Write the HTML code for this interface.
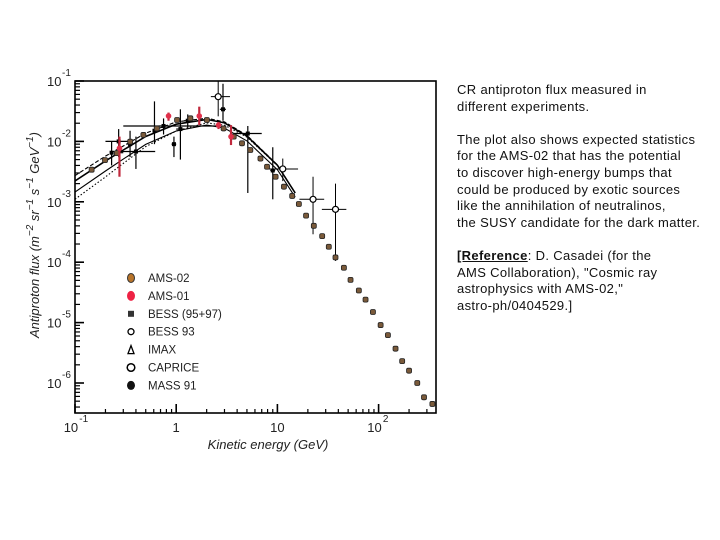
<!DOCTYPE html>
<html><head><meta charset="utf-8"><style>
body{margin:0;background:#fff;width:720px;height:540px;overflow:hidden;position:relative;font-family:"Liberation Sans",Arial,sans-serif}
#txt{position:absolute;left:457px;top:82px;font-size:13px;letter-spacing:0.35px;line-height:16.6px;color:#111;width:262px;white-space:nowrap}
#txt p{margin:0 0 16.6px 0}
</style></head><body>
<svg id="chart" width="440" height="540" style="position:absolute;left:0;top:0" font-family="Liberation Sans, Arial, sans-serif"></svg>
<div id="txt">
<p>CR antiproton flux measured in<br>different experiments.</p>
<p>The plot also shows expected statistics<br>for the AMS-02 that has the potential<br>to discover high-energy bumps that<br>could be produced by exotic sources<br>like the annihilation of neutralinos,<br>the SUSY candidate for the dark matter.</p>
<p><b><u>[Reference</u></b>: D. Casadei (for the<br>AMS Collaboration), "Cosmic ray<br>astrophysics with AMS-02,"<br>astro-ph/0404529.]</p>
</div>
<script>
const ams02E=[0.146,0.198,0.259,0.351,0.474,0.644,1.02,1.38,2.01,2.94,3.7,4.47,5.4,6.8,7.9,9.6,11.6,14,16.3,19.2,22.9,27.7,32.2,37.5,45.4,52.8,63.8,74.3,87.9,104.7,123.6,147,171,200,241,281,340];
const ams02F=[3.4e-3,4.9e-3,6.4e-3,9.9e-3,1.28e-2,1.64e-2,2.26e-2,2.41e-2,2.26e-2,1.64e-2,1.2e-2,9.3e-3,7.2e-3,5.2e-3,3.8e-3,2.6e-3,1.78e-3,1.25e-3,9.2e-4,5.9e-4,4.0e-4,2.7e-4,1.8e-4,1.2e-4,8.1e-5,5.1e-5,3.4e-5,2.4e-5,1.5e-5,9.1e-6,6.2e-6,3.7e-6,2.3e-6,1.6e-6,1.0e-6,5.8e-7,4.5e-7];
const ams01E=[0.275,0.84,1.69,2.62,3.48];
const ams01F=[7.7e-3,2.63e-2,2.63e-2,1.86e-2,1.2e-2];
const ams01Lo=[2.6e-3,2.2e-2,1.86e-2,1.6e-2,8.7e-3];
const ams01Hi=[1.2e-2,3.0e-2,3.76e-2,2.1e-2,1.86e-2];
const capE=[2.6,11.3,22.5,37.5];
const capF=[5.5e-2,3.5e-3,1.1e-3,7.5e-4];
const capLo=[2.6e-2,2.2e-3,2.9e-4,1.05e-4];
const capHi=[1e-1,5.2e-3,2.6e-3,2e-3];
const capXLo=[2.2,8.2,16.5,27.5];
const capXHi=[3.4,16,29,48];
const blkE=[0.27,0.23,0.35,0.4,0.61,0.95,1.1,2.9,5.1,9.0,0.75,1.3];
const blkF=[1.0e-2,6.5e-3,9e-3,6.8e-3,1.5e-2,9e-3,1.6e-2,3.4e-2,1.35e-2,3.3e-3,1.8e-2,2.2e-2];
const blkLo=[5.5e-3,4e-3,5.5e-3,3.5e-3,9e-3,5.5e-3,5e-3,2.2e-2,1.4e-3,1.1e-3,1.3e-2,1.6e-2];
const blkHi=[1.6e-2,1.0e-2,1.5e-2,1.2e-2,4.6e-2,1.2e-2,3.4e-2,9e-2,1.8e-2,8e-3,2.4e-2,2.8e-2];
const blkXLo=[0.2,0.25,0.33,0.27,0.6,0.9,1.0,2.7,3.7,8.5,0.3,1.2];
const blkXHi=[0.36,0.3,0.37,0.62,0.63,1.0,1.2,3.1,7.0,9.5,2.5,1.4];
const modelE=[0.1,0.2,0.3,0.5,1,2,3,5,10,15];
const modelF=[1.7e-3,3.8e-3,6e-3,1.05e-2,1.75e-2,2.2e-2,1.95e-2,1.2e-2,4e-3,1.4e-3];
const bandHi=[1.6,1.5,1.4,1.3,1.2,1.1,1.08,1.05,1.02,1];
const bandMid=[1.3,1.25,1.2,1.15,1.1,1.05,1.04,1.02,1.01,1];
const bandLo=[0.65,0.68,0.72,0.78,0.85,0.92,0.95,0.98,1,1];
const yTicks=[-1,-2,-3,-4,-5,-6];
const xTickLabels=[["10","-1"],["1",""],["10",""],["10","2"]];
const legendLabels=["AMS-02","AMS-01","BESS (95+97)","BESS 93","IMAX","CAPRICE","MASS 91"];

const svg=document.getElementById('chart');
const NS='http://www.w3.org/2000/svg';
const X0=75,X1=436,Y0=81,Y1=413;
const xs=e=>X0+(Math.log10(e)+1)*101.2;
const ys=f=>Y0+(-1-Math.log10(f))*60.4;
function mk(t,a,p){const e=document.createElementNS(NS,t);for(const k in a)e.setAttribute(k,a[k]);(p||svg).appendChild(e);return e;}
const clip=mk('clipPath',{id:'cp'});mk('rect',{x:X0,y:Y0-10,width:X1-X0,height:Y1-Y0+10},clip);
const g=mk('g',{'clip-path':'url(#cp)'});


[[bandHi,'4,2'],[bandMid,''],[modelF.map(()=>0.85),''],[bandLo,'1.5,2']].forEach((b,j)=>{
 let d='';modelE.forEach((e,i)=>{d+=(i?'L':'M')+xs(e).toFixed(1)+','+ys(modelF[i]*b[0][i]).toFixed(1);});
 const p=mk('path',{d,fill:'none',stroke:'#000','stroke-width':j==1?1.6:1.1,'stroke-dasharray':b[1]},g);
 
 
});
blkE.forEach((e,i)=>{
 const l1=mk('line',{x1:xs(blkXLo[i]),x2:xs(blkXHi[i]),y1:ys(blkF[i]),y2:ys(blkF[i]),stroke:'#000','stroke-width':1.2},g);
 
 
 const l2=mk('line',{x1:xs(e),x2:xs(e),y1:ys(blkLo[i]),y2:ys(blkHi[i]),stroke:'#000','stroke-width':1.2},g);
 
 
 const r=mk('rect',{x:xs(e)-2,y:ys(blkF[i])-2,width:4,height:4,fill:'#000'},g);
 
 
});
capE.forEach((e,i)=>{
 const l1=mk('line',{x1:xs(capXLo[i]),x2:xs(capXHi[i]),y1:ys(capF[i]),y2:ys(capF[i]),stroke:'#000','stroke-width':1},g);
 
 
 const l2=mk('line',{x1:xs(e),x2:xs(e),y1:ys(capLo[i]),y2:ys(capHi[i]),stroke:'#000','stroke-width':1},g);
 
 
 const c=mk('circle',{cx:xs(e),cy:ys(capF[i]),r:3,fill:'#fff',stroke:'#000','stroke-width':1.2},g);
 
 
});
ams02E.forEach((e,i)=>{
 const c=mk('rect',{x:xs(e)-2.5,y:ys(ams02F[i])-2.5,width:5,height:5,rx:1.5,fill:'#7a5a3a',stroke:'#222','stroke-width':0.8},g);
 
 
});
ams01E.forEach((e,i)=>{
 const l=mk('line',{x1:xs(e),x2:xs(e),y1:ys(ams01Lo[i]),y2:ys(ams01Hi[i]),stroke:'#c0283c','stroke-width':2.2},g);
 
 
 const c=mk('circle',{cx:xs(e),cy:ys(ams01F[i]),r:2.8,fill:'#e0304a'},g);
 
 
});
const fr=mk('rect',{x:X0,y:Y0,width:X1-X0,height:Y1-Y0,fill:'none',stroke:'#000','stroke-width':1.6});


for(let d=-1;d>=-7;d--){for(let m=1;m<10;m++){const f=m*Math.pow(10,d);const y=ys(f);if(y<Y0-0.5||y>Y1)continue;
 const t=mk('line',{x1:X0,x2:X0+(m==1?9:5),y1:y,y2:y,stroke:'#000','stroke-width':m==1?1.6:1.2});
 }}
yTicks.forEach(d=>{const y=ys(Math.pow(10,d));
 const t=mk('text',{x:47,y:y+5,'font-size':13,fill:'#222'});t.textContent='10';
 
 const s=mk('text',{x:62,y:y-5,'font-size':10,fill:'#222'});s.textContent=String(d);
 });
for(let d=-1;d<=2;d++){for(let m=1;m<10;m++){const e=m*Math.pow(10,d);const x=xs(e);if(x>X1)continue;
 const t=mk('line',{x1:x,x2:x,y1:Y1,y2:Y1-(m==1?9:4),stroke:'#000','stroke-width':m==1?1.6:1.2});
 }}
xTickLabels.forEach((lb,i)=>{const x=xs(Math.pow(10,i-1));
 const w=lb[0].length*7.3;
 const t=mk('text',{x:x-w/2-(lb[1]?4:0),y:432,'font-size':13,fill:'#222'});t.textContent=lb[0];
 
 if(lb[1]){const s=mk('text',{x:x-w/2-4+w+1,y:422,'font-size':10,fill:'#222'});s.textContent=lb[1];
 }});
const xt=mk('text',{x:268,y:449,'font-size':13,'font-style':'italic','text-anchor':'middle',fill:'#222'});
xt.textContent='Kinetic energy  (GeV)';

const yt=mk('text',{x:0,y:0,'font-size':13,'font-style':'italic','text-anchor':'middle',fill:'#222',transform:'translate(39,235) rotate(-90)'});
yt.innerHTML='Antiproton flux (m<tspan dy="-6" font-size="10">−2</tspan><tspan dy="6"> sr</tspan><tspan dy="-6" font-size="10">−1</tspan><tspan dy="6"> s</tspan><tspan dy="-6" font-size="10">−1</tspan><tspan dy="6"> GeV</tspan><tspan dy="-6" font-size="10">−1</tspan><tspan dy="6">)</tspan>';

legendLabels.forEach((lb,i)=>{const y=278+i*17.9;const x=131;let m;
 if(i==0)m=mk('ellipse',{cx:x,cy:y,rx:3.5,ry:4.5,fill:'#b8742a',stroke:'#333'});
 else if(i==1)m=mk('ellipse',{cx:x,cy:y,rx:4,ry:5,fill:'#ee2244'});
 else if(i==2)m=mk('rect',{x:x-3,y:y-3,width:6,height:6,fill:'#333'});
 else if(i==3)m=mk('circle',{cx:x,cy:y,r:3,fill:'#fff',stroke:'#000','stroke-width':1.3});
 else if(i==4)m=mk('path',{d:`M${x-3},${y+4}L${x},${y-4}L${x+3},${y+4}Z`,fill:'#fff',stroke:'#000','stroke-width':1.3});
 else if(i==5)m=mk('circle',{cx:x,cy:y,r:3.8,fill:'#fff',stroke:'#000','stroke-width':1.5});
 else m=mk('ellipse',{cx:x,cy:y,rx:4,ry:4.5,fill:'#111'});
 
 const t=mk('text',{x:148,y:y+4,'font-size':11.5,fill:'#222'});t.textContent=lb;
 });
</script>
</body></html>
